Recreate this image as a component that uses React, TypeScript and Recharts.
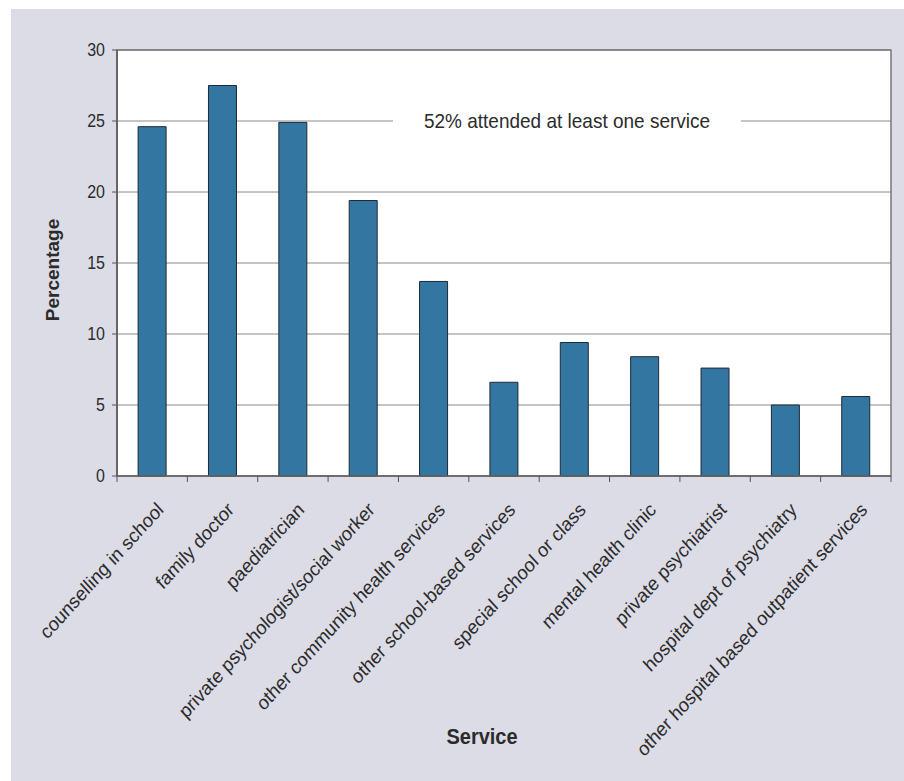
import React from 'react'
import { BarChart, Bar, XAxis, YAxis, CartesianGrid, ReferenceLine, ReferenceArea, Label } from 'recharts'

const services = [
  'counselling in school',
  'family doctor',
  'paediatrician',
  'private psychologist/social worker',
  'other community health services',
  'other school-based services',
  'special school or class',
  'mental health clinic',
  'private psychiatrist',
  'hospital dept of psychiatry',
  'other hospital based outpatient services',
]
const percentages = [24.6, 27.5, 24.9, 19.4, 13.7, 6.6, 9.4, 8.4, 7.6, 5.0, 5.6]
const yTicks = [0, 5, 10, 15, 20, 25, 30]
const noteText = '52% attended at least one service'

const data = services.map((name, i) => ({ name, value: percentages[i] }))

const FONT = '"Liberation Sans", Arial, sans-serif'
const TEXT = '#2b2b2b'

// the source image is slightly stretched vertically, so text gets scale(1, 1.1)
const CategoryTick = (props: any) => {
  const { x, y, payload, index } = props
  const off = payload?.offset ?? 35
  const axisY = y - 8
  const px = x + 8
  const py = axisY + 30
  return (
    <g>
      <line x1={x - off} x2={x - off} y1={axisY} y2={axisY + 6} stroke="#555" />
      {index === services.length - 1 && (
        <line x1={x + off} x2={x + off} y1={axisY} y2={axisY + 6} stroke="#555" />
      )}
      <text
        x={0}
        y={0}
        dy="0.35em"
        textAnchor="end"
        transform={`translate(${px}, ${py}) scale(1, 1.1) rotate(-45)`}
        fontSize={18}
        fontFamily={FONT}
        fill={TEXT}
      >
        {payload.value}
      </text>
    </g>
  )
}

const YTick = (props: any) => {
  const { x, y, payload } = props
  return (
    <text x={0} y={0} dy="0.35em" textAnchor="end" transform={`translate(${x}, ${y}) scale(1, 1.1)`}
      fontSize={16} fontFamily={FONT} fill={TEXT}>
      {payload.value}
    </text>
  )
}

const NoteLabel = (props: any) => {
  const { viewBox } = props
  const cx = viewBox.x + 450
  const cy = viewBox.y
  return (
    <g>
      <rect x={cx - 174} y={cy - 9} width={348} height={18} fill="#fff" />
      <text x={0} y={0} dy="0.35em" textAnchor="middle" transform={`translate(${cx}, ${cy}) scale(1, 1.1)`}
        fontSize={19} fontFamily={FONT} fill={TEXT}>
        {noteText}
      </text>
    </g>
  )
}

export default function App() {
  return (
    <div style={{ position: 'absolute', left: 0, top: 0, width: 904, height: 781, background: '#fff' }}>
      <div style={{ position: 'absolute', left: 11, top: 9, width: 893, height: 772, background: '#dcdce6' }}>
        <BarChart
          width={893}
          height={772}
          data={data}
          margin={{ top: 41, right: 13, bottom: 0, left: 0 }}
          barCategoryGap="30%"
        >
          <CartesianGrid vertical={false} stroke="#8a8a8a" fill="#fff" />
          <XAxis
            dataKey="name"
            height={305}
            interval={0}
            tickLine={false}
            axisLine={{ stroke: '#666', strokeWidth: 1.5 }}
            tick={<CategoryTick />}
          >
            <Label
              content={() => (
                <text x={0} y={0} dy="0.35em" textAnchor="middle" transform="translate(471, 727) scale(1, 1.1)"
                  fontSize={20} fontWeight="bold" fontFamily={FONT} fill={TEXT}>
                  Service
                </text>
              )}
            />
          </XAxis>
          <YAxis
            width={106}
            domain={[0, 30]}
            ticks={yTicks}
            interval={0}
            tickSize={5}
            tickMargin={7}
            tick={<YTick />}
            tickLine={{ stroke: '#555' }}
            axisLine={{ stroke: '#666', strokeWidth: 2 }}
          >
            <Label
              content={() => (
                <text
                  x={0}
                  y={0}
                  dy="0.35em"
                  textAnchor="middle"
                  transform="translate(41, 261) rotate(-90)"
                  fontSize={19}
                  fontWeight="bold"
                  fontFamily={FONT}
                  fill={TEXT}
                >
                  Percentage
                </text>
              )}
            />
          </YAxis>
          <ReferenceArea y1={0} y2={30} fill="none" stroke="#777" strokeWidth={1.5} ifOverflow="visible" />
          <ReferenceLine y={25} stroke="none" label={<NoteLabel />} />
          <Bar dataKey="value" fill="#3276a1" stroke="#1f2a33" strokeWidth={1} isAnimationActive={false} />
        </BarChart>
      </div>
    </div>
  )
}
